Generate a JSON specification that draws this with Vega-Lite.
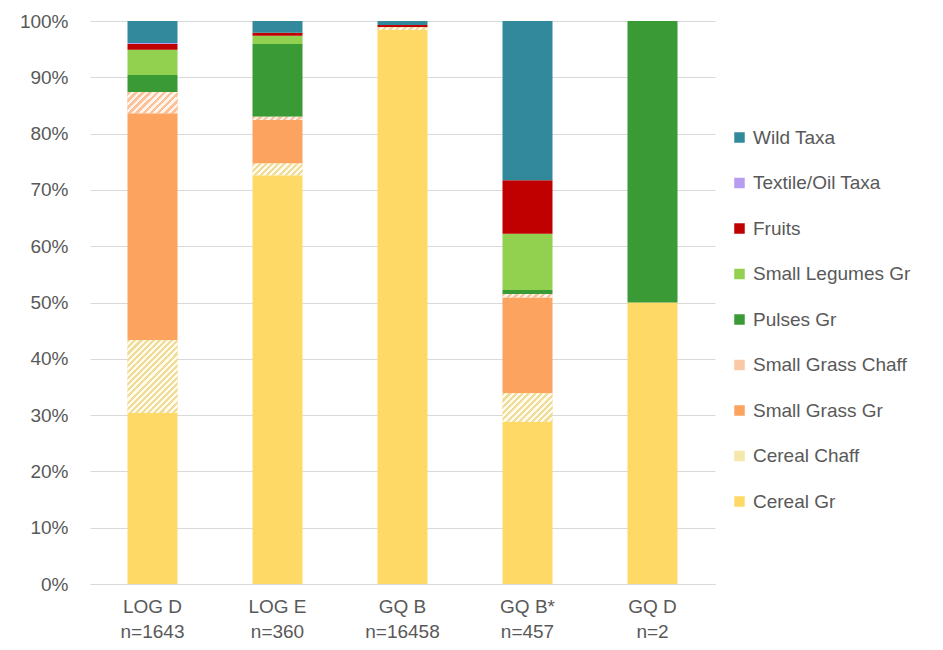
{
  "$schema": "https://vega.github.io/schema/vega-lite/v6.json",
  "width": 625,
  "height": 563,
  "autosize": "none",
  "padding": {"left": 90, "top": 21, "right": 228, "bottom": 66},
  "background": "white",
  "config": {"view": {"stroke": null}, "font": "Liberation Sans"},
  "data": {
    "values": [
      {"Site": "LOG D|n=1643", "Category": "Cereal Gr", "Pct": 30.4},
      {"Site": "LOG D|n=1643", "Category": "Cereal Chaff", "Pct": 12.9},
      {"Site": "LOG D|n=1643", "Category": "Small Grass Gr", "Pct": 40.3},
      {"Site": "LOG D|n=1643", "Category": "Small Grass Chaff", "Pct": 3.8},
      {"Site": "LOG D|n=1643", "Category": "Pulses Gr", "Pct": 3.0},
      {"Site": "LOG D|n=1643", "Category": "Small Legumes Gr", "Pct": 4.5},
      {"Site": "LOG D|n=1643", "Category": "Fruits", "Pct": 1.0},
      {"Site": "LOG D|n=1643", "Category": "Textile/Oil Taxa", "Pct": 0.2},
      {"Site": "LOG D|n=1643", "Category": "Wild Taxa", "Pct": 3.9},
      {"Site": "LOG E|n=360", "Category": "Cereal Gr", "Pct": 72.6},
      {"Site": "LOG E|n=360", "Category": "Cereal Chaff", "Pct": 2.1},
      {"Site": "LOG E|n=360", "Category": "Small Grass Gr", "Pct": 7.7},
      {"Site": "LOG E|n=360", "Category": "Small Grass Chaff", "Pct": 0.6},
      {"Site": "LOG E|n=360", "Category": "Pulses Gr", "Pct": 12.9},
      {"Site": "LOG E|n=360", "Category": "Small Legumes Gr", "Pct": 1.5},
      {"Site": "LOG E|n=360", "Category": "Fruits", "Pct": 0.5},
      {"Site": "LOG E|n=360", "Category": "Wild Taxa", "Pct": 2.1},
      {"Site": "GQ B|n=16458", "Category": "Cereal Gr", "Pct": 98.4},
      {"Site": "GQ B|n=16458", "Category": "Cereal Chaff", "Pct": 0.5},
      {"Site": "GQ B|n=16458", "Category": "Fruits", "Pct": 0.4},
      {"Site": "GQ B|n=16458", "Category": "Wild Taxa", "Pct": 0.7},
      {"Site": "GQ B*|n=457", "Category": "Cereal Gr", "Pct": 28.8},
      {"Site": "GQ B*|n=457", "Category": "Cereal Chaff", "Pct": 5.1},
      {"Site": "GQ B*|n=457", "Category": "Small Grass Gr", "Pct": 17.0},
      {"Site": "GQ B*|n=457", "Category": "Small Grass Chaff", "Pct": 0.6},
      {"Site": "GQ B*|n=457", "Category": "Pulses Gr", "Pct": 0.7},
      {"Site": "GQ B*|n=457", "Category": "Small Legumes Gr", "Pct": 10.0},
      {"Site": "GQ B*|n=457", "Category": "Fruits", "Pct": 9.5},
      {"Site": "GQ B*|n=457", "Category": "Wild Taxa", "Pct": 28.3},
      {"Site": "GQ D|n=2", "Category": "Cereal Gr", "Pct": 50},
      {"Site": "GQ D|n=2", "Category": "Pulses Gr", "Pct": 50}
    ]
  },
  "transform": [
    {"calculate": "indexof(['Cereal Gr','Cereal Chaff','Small Grass Gr','Small Grass Chaff','Pulses Gr','Small Legumes Gr','Fruits','Textile/Oil Taxa','Wild Taxa'], datum.Category)", "as": "ord"},
    {"stack": "Pct", "groupby": ["Site"], "sort": [{"field": "ord", "order": "ascending"}], "as": ["y0", "y1"]}
  ],
  "encoding": {
    "x": {
      "field": "Site", "type": "nominal", "sort": null,
      "scale": {"paddingInner": 0.6, "paddingOuter": 0.3},
      "axis": {"title": null, "labelExpr": "split(datum.value, '|')", "labelFontSize": 19, "labelColor": "#595959", "labelPadding": 13, "labelLineHeight": 25, "ticks": false, "domainColor": "#d9d9d9", "labelAngle": 0, "grid": false}
    },
    "y": {
      "field": "y0", "type": "quantitative", "scale": {"domain": [0, 100]},
      "axis": {"title": null, "values": [0,10,20,30,40,50,60,70,80,90,100], "labelExpr": "datum.value + '%'", "labelFontSize": 19, "labelColor": "#595959", "labelPadding": 22, "ticks": false, "domain": false, "gridColor": "#d9d9d9"}
    },
    "y2": {"field": "y1"}
  },
  "layer": [
    {
      "mark": {"type": "bar"},
      "encoding": {
        "color": {
          "field": "Category", "type": "nominal",
          "scale": {
            "domain": ["Wild Taxa","Textile/Oil Taxa","Fruits","Small Legumes Gr","Pulses Gr","Small Grass Chaff","Small Grass Gr","Cereal Chaff","Cereal Gr"],
            "range": ["#31899b","#b89cf0","#c00000","#92d050","#3a9a36","#f8c9a4","#fca360","#f6e7aa","#ffd966"]
          },
          "legend": {"title": null, "orient": "none", "legendX": 640, "legendY": 107, "symbolType": "square", "symbolSize": 110, "symbolStrokeWidth": 0, "labelFontSize": 19, "labelColor": "#595959", "labelOffset": 4, "rowPadding": 25.5, "padding": 0, "labelLimit": 300}
        }
      }
    },
    {
      "transform": [{"filter": "datum.Category === 'Cereal Chaff' || datum.Category === 'Small Grass Chaff'"}],
      "mark": {"type": "bar"},
      "encoding": {
        "fill": {
          "condition": [
            {"test": "datum.Site === 'LOG D|n=1643' && datum.Category === 'Cereal Chaff'",
             "value": {"gradient": "linear", "x1": 0, "y1": 0, "x2": 0.789, "y2": 1.145, "stops": [
              {"offset":0,"color":"#f0dc98"},{"offset":0.025,"color":"#f0dc98"},{"offset":0.025,"color":"#fffcee"},{"offset":0.05,"color":"#fffcee"},
              {"offset":0.05,"color":"#f0dc98"},{"offset":0.075,"color":"#f0dc98"},{"offset":0.075,"color":"#fffcee"},{"offset":0.1,"color":"#fffcee"},
              {"offset":0.1,"color":"#f0dc98"},{"offset":0.125,"color":"#f0dc98"},{"offset":0.125,"color":"#fffcee"},{"offset":0.15,"color":"#fffcee"},
              {"offset":0.15,"color":"#f0dc98"},{"offset":0.175,"color":"#f0dc98"},{"offset":0.175,"color":"#fffcee"},{"offset":0.2,"color":"#fffcee"},
              {"offset":0.2,"color":"#f0dc98"},{"offset":0.225,"color":"#f0dc98"},{"offset":0.225,"color":"#fffcee"},{"offset":0.25,"color":"#fffcee"},
              {"offset":0.25,"color":"#f0dc98"},{"offset":0.275,"color":"#f0dc98"},{"offset":0.275,"color":"#fffcee"},{"offset":0.3,"color":"#fffcee"},
              {"offset":0.3,"color":"#f0dc98"},{"offset":0.325,"color":"#f0dc98"},{"offset":0.325,"color":"#fffcee"},{"offset":0.35,"color":"#fffcee"},
              {"offset":0.35,"color":"#f0dc98"},{"offset":0.375,"color":"#f0dc98"},{"offset":0.375,"color":"#fffcee"},{"offset":0.4,"color":"#fffcee"},
              {"offset":0.4,"color":"#f0dc98"},{"offset":0.425,"color":"#f0dc98"},{"offset":0.425,"color":"#fffcee"},{"offset":0.45,"color":"#fffcee"},
              {"offset":0.45,"color":"#f0dc98"},{"offset":0.475,"color":"#f0dc98"},{"offset":0.475,"color":"#fffcee"},{"offset":0.5,"color":"#fffcee"},
              {"offset":0.5,"color":"#f0dc98"},{"offset":0.525,"color":"#f0dc98"},{"offset":0.525,"color":"#fffcee"},{"offset":0.55,"color":"#fffcee"},
              {"offset":0.55,"color":"#f0dc98"},{"offset":0.575,"color":"#f0dc98"},{"offset":0.575,"color":"#fffcee"},{"offset":0.6,"color":"#fffcee"},
              {"offset":0.6,"color":"#f0dc98"},{"offset":0.625,"color":"#f0dc98"},{"offset":0.625,"color":"#fffcee"},{"offset":0.65,"color":"#fffcee"},
              {"offset":0.65,"color":"#f0dc98"},{"offset":0.675,"color":"#f0dc98"},{"offset":0.675,"color":"#fffcee"},{"offset":0.7,"color":"#fffcee"},
              {"offset":0.7,"color":"#f0dc98"},{"offset":0.725,"color":"#f0dc98"},{"offset":0.725,"color":"#fffcee"},{"offset":0.75,"color":"#fffcee"},
              {"offset":0.75,"color":"#f0dc98"},{"offset":0.775,"color":"#f0dc98"},{"offset":0.775,"color":"#fffcee"},{"offset":0.8,"color":"#fffcee"},
              {"offset":0.8,"color":"#f0dc98"},{"offset":0.825,"color":"#f0dc98"},{"offset":0.825,"color":"#fffcee"},{"offset":0.85,"color":"#fffcee"},
              {"offset":0.85,"color":"#f0dc98"},{"offset":0.875,"color":"#f0dc98"},{"offset":0.875,"color":"#fffcee"},{"offset":0.9,"color":"#fffcee"},
              {"offset":0.9,"color":"#f0dc98"},{"offset":0.925,"color":"#f0dc98"},{"offset":0.925,"color":"#fffcee"},{"offset":0.95,"color":"#fffcee"},
              {"offset":0.95,"color":"#f0dc98"},{"offset":0.975,"color":"#f0dc98"},{"offset":0.975,"color":"#fffcee"},{"offset":1,"color":"#fffcee"}
             ]}},
            {"test": "datum.Site === 'LOG D|n=1643' && datum.Category === 'Small Grass Chaff'",
             "value": {"gradient": "linear", "x1": 0, "y1": 0, "x2": 1.207, "y2": 0.517, "stops": [
              {"offset":0,"color":"#f9c29a"},{"offset":0.05,"color":"#f9c29a"},{"offset":0.05,"color":"#fff3ea"},{"offset":0.1,"color":"#fff3ea"},
              {"offset":0.1,"color":"#f9c29a"},{"offset":0.15,"color":"#f9c29a"},{"offset":0.15,"color":"#fff3ea"},{"offset":0.2,"color":"#fff3ea"},
              {"offset":0.2,"color":"#f9c29a"},{"offset":0.25,"color":"#f9c29a"},{"offset":0.25,"color":"#fff3ea"},{"offset":0.3,"color":"#fff3ea"},
              {"offset":0.3,"color":"#f9c29a"},{"offset":0.35,"color":"#f9c29a"},{"offset":0.35,"color":"#fff3ea"},{"offset":0.4,"color":"#fff3ea"},
              {"offset":0.4,"color":"#f9c29a"},{"offset":0.45,"color":"#f9c29a"},{"offset":0.45,"color":"#fff3ea"},{"offset":0.5,"color":"#fff3ea"},
              {"offset":0.5,"color":"#f9c29a"},{"offset":0.55,"color":"#f9c29a"},{"offset":0.55,"color":"#fff3ea"},{"offset":0.6,"color":"#fff3ea"},
              {"offset":0.6,"color":"#f9c29a"},{"offset":0.65,"color":"#f9c29a"},{"offset":0.65,"color":"#fff3ea"},{"offset":0.7,"color":"#fff3ea"},
              {"offset":0.7,"color":"#f9c29a"},{"offset":0.75,"color":"#f9c29a"},{"offset":0.75,"color":"#fff3ea"},{"offset":0.8,"color":"#fff3ea"},
              {"offset":0.8,"color":"#f9c29a"},{"offset":0.85,"color":"#f9c29a"},{"offset":0.85,"color":"#fff3ea"},{"offset":0.9,"color":"#fff3ea"},
              {"offset":0.9,"color":"#f9c29a"},{"offset":0.95,"color":"#f9c29a"},{"offset":0.95,"color":"#fff3ea"},{"offset":1,"color":"#fff3ea"}
             ]}},
            {"test": "datum.Site === 'LOG E|n=360' && datum.Category === 'Cereal Chaff'",
             "value": {"gradient": "linear", "x1": 0, "y1": 0, "x2": 1.171, "y2": 0.276, "stops": [
              {"offset":0,"color":"#f0dc98"},{"offset":0.05,"color":"#f0dc98"},{"offset":0.05,"color":"#fffcee"},{"offset":0.1,"color":"#fffcee"},
              {"offset":0.1,"color":"#f0dc98"},{"offset":0.15,"color":"#f0dc98"},{"offset":0.15,"color":"#fffcee"},{"offset":0.2,"color":"#fffcee"},
              {"offset":0.2,"color":"#f0dc98"},{"offset":0.25,"color":"#f0dc98"},{"offset":0.25,"color":"#fffcee"},{"offset":0.3,"color":"#fffcee"},
              {"offset":0.3,"color":"#f0dc98"},{"offset":0.35,"color":"#f0dc98"},{"offset":0.35,"color":"#fffcee"},{"offset":0.4,"color":"#fffcee"},
              {"offset":0.4,"color":"#f0dc98"},{"offset":0.45,"color":"#f0dc98"},{"offset":0.45,"color":"#fffcee"},{"offset":0.5,"color":"#fffcee"},
              {"offset":0.5,"color":"#f0dc98"},{"offset":0.55,"color":"#f0dc98"},{"offset":0.55,"color":"#fffcee"},{"offset":0.6,"color":"#fffcee"},
              {"offset":0.6,"color":"#f0dc98"},{"offset":0.65,"color":"#f0dc98"},{"offset":0.65,"color":"#fffcee"},{"offset":0.7,"color":"#fffcee"},
              {"offset":0.7,"color":"#f0dc98"},{"offset":0.75,"color":"#f0dc98"},{"offset":0.75,"color":"#fffcee"},{"offset":0.8,"color":"#fffcee"},
              {"offset":0.8,"color":"#f0dc98"},{"offset":0.85,"color":"#f0dc98"},{"offset":0.85,"color":"#fffcee"},{"offset":0.9,"color":"#fffcee"},
              {"offset":0.9,"color":"#f0dc98"},{"offset":0.95,"color":"#f0dc98"},{"offset":0.95,"color":"#fffcee"},{"offset":1,"color":"#fffcee"}
             ]}},
            {"test": "datum.Site === 'GQ B*|n=457' && datum.Category === 'Cereal Chaff'",
             "value": {"gradient": "linear", "x1": 0, "y1": 0, "x2": 1.184, "y2": 0.68, "stops": [
              {"offset":0,"color":"#f0dc98"},{"offset":0.04,"color":"#f0dc98"},{"offset":0.04,"color":"#fffcee"},{"offset":0.08,"color":"#fffcee"},
              {"offset":0.08,"color":"#f0dc98"},{"offset":0.12,"color":"#f0dc98"},{"offset":0.12,"color":"#fffcee"},{"offset":0.16,"color":"#fffcee"},
              {"offset":0.16,"color":"#f0dc98"},{"offset":0.2,"color":"#f0dc98"},{"offset":0.2,"color":"#fffcee"},{"offset":0.24,"color":"#fffcee"},
              {"offset":0.24,"color":"#f0dc98"},{"offset":0.28,"color":"#f0dc98"},{"offset":0.28,"color":"#fffcee"},{"offset":0.32,"color":"#fffcee"},
              {"offset":0.32,"color":"#f0dc98"},{"offset":0.36,"color":"#f0dc98"},{"offset":0.36,"color":"#fffcee"},{"offset":0.4,"color":"#fffcee"},
              {"offset":0.4,"color":"#f0dc98"},{"offset":0.44,"color":"#f0dc98"},{"offset":0.44,"color":"#fffcee"},{"offset":0.48,"color":"#fffcee"},
              {"offset":0.48,"color":"#f0dc98"},{"offset":0.52,"color":"#f0dc98"},{"offset":0.52,"color":"#fffcee"},{"offset":0.56,"color":"#fffcee"},
              {"offset":0.56,"color":"#f0dc98"},{"offset":0.6,"color":"#f0dc98"},{"offset":0.6,"color":"#fffcee"},{"offset":0.64,"color":"#fffcee"},
              {"offset":0.64,"color":"#f0dc98"},{"offset":0.68,"color":"#f0dc98"},{"offset":0.68,"color":"#fffcee"},{"offset":0.72,"color":"#fffcee"},
              {"offset":0.72,"color":"#f0dc98"},{"offset":0.76,"color":"#f0dc98"},{"offset":0.76,"color":"#fffcee"},{"offset":0.8,"color":"#fffcee"},
              {"offset":0.8,"color":"#f0dc98"},{"offset":0.84,"color":"#f0dc98"},{"offset":0.84,"color":"#fffcee"},{"offset":0.88,"color":"#fffcee"},
              {"offset":0.88,"color":"#f0dc98"},{"offset":0.92,"color":"#f0dc98"},{"offset":0.92,"color":"#fffcee"},{"offset":0.96,"color":"#fffcee"},
              {"offset":0.96,"color":"#f0dc98"},{"offset":1,"color":"#f0dc98"}
             ]}},
            {"test": "datum.Category === 'Cereal Chaff'",
             "value": {"gradient": "linear", "x1": 0, "y1": 0, "x2": 1.053, "y2": 0.059, "stops": [
              {"offset":0,"color":"#f0dc98"},{"offset":0.0625,"color":"#f0dc98"},{"offset":0.0625,"color":"#fffcee"},{"offset":0.125,"color":"#fffcee"},
              {"offset":0.125,"color":"#f0dc98"},{"offset":0.1875,"color":"#f0dc98"},{"offset":0.1875,"color":"#fffcee"},{"offset":0.25,"color":"#fffcee"},
              {"offset":0.25,"color":"#f0dc98"},{"offset":0.3125,"color":"#f0dc98"},{"offset":0.3125,"color":"#fffcee"},{"offset":0.375,"color":"#fffcee"},
              {"offset":0.375,"color":"#f0dc98"},{"offset":0.4375,"color":"#f0dc98"},{"offset":0.4375,"color":"#fffcee"},{"offset":0.5,"color":"#fffcee"},
              {"offset":0.5,"color":"#f0dc98"},{"offset":0.5625,"color":"#f0dc98"},{"offset":0.5625,"color":"#fffcee"},{"offset":0.625,"color":"#fffcee"},
              {"offset":0.625,"color":"#f0dc98"},{"offset":0.6875,"color":"#f0dc98"},{"offset":0.6875,"color":"#fffcee"},{"offset":0.75,"color":"#fffcee"},
              {"offset":0.75,"color":"#f0dc98"},{"offset":0.8125,"color":"#f0dc98"},{"offset":0.8125,"color":"#fffcee"},{"offset":0.875,"color":"#fffcee"},
              {"offset":0.875,"color":"#f0dc98"},{"offset":0.9375,"color":"#f0dc98"},{"offset":0.9375,"color":"#fffcee"},{"offset":1,"color":"#fffcee"}
             ]}}
          ],
          "value": {"gradient": "linear", "x1": 0, "y1": 0, "x2": 1.063, "y2": 0.072, "stops": [
              {"offset":0,"color":"#f9c29a"},{"offset":0.0625,"color":"#f9c29a"},{"offset":0.0625,"color":"#fff3ea"},{"offset":0.125,"color":"#fff3ea"},
              {"offset":0.125,"color":"#f9c29a"},{"offset":0.1875,"color":"#f9c29a"},{"offset":0.1875,"color":"#fff3ea"},{"offset":0.25,"color":"#fff3ea"},
              {"offset":0.25,"color":"#f9c29a"},{"offset":0.3125,"color":"#f9c29a"},{"offset":0.3125,"color":"#fff3ea"},{"offset":0.375,"color":"#fff3ea"},
              {"offset":0.375,"color":"#f9c29a"},{"offset":0.4375,"color":"#f9c29a"},{"offset":0.4375,"color":"#fff3ea"},{"offset":0.5,"color":"#fff3ea"},
              {"offset":0.5,"color":"#f9c29a"},{"offset":0.5625,"color":"#f9c29a"},{"offset":0.5625,"color":"#fff3ea"},{"offset":0.625,"color":"#fff3ea"},
              {"offset":0.625,"color":"#f9c29a"},{"offset":0.6875,"color":"#f9c29a"},{"offset":0.6875,"color":"#fff3ea"},{"offset":0.75,"color":"#fff3ea"},
              {"offset":0.75,"color":"#f9c29a"},{"offset":0.8125,"color":"#f9c29a"},{"offset":0.8125,"color":"#fff3ea"},{"offset":0.875,"color":"#fff3ea"},
              {"offset":0.875,"color":"#f9c29a"},{"offset":0.9375,"color":"#f9c29a"},{"offset":0.9375,"color":"#fff3ea"},{"offset":1,"color":"#fff3ea"}
          ]}
        }
      }
    }
  ]
}
